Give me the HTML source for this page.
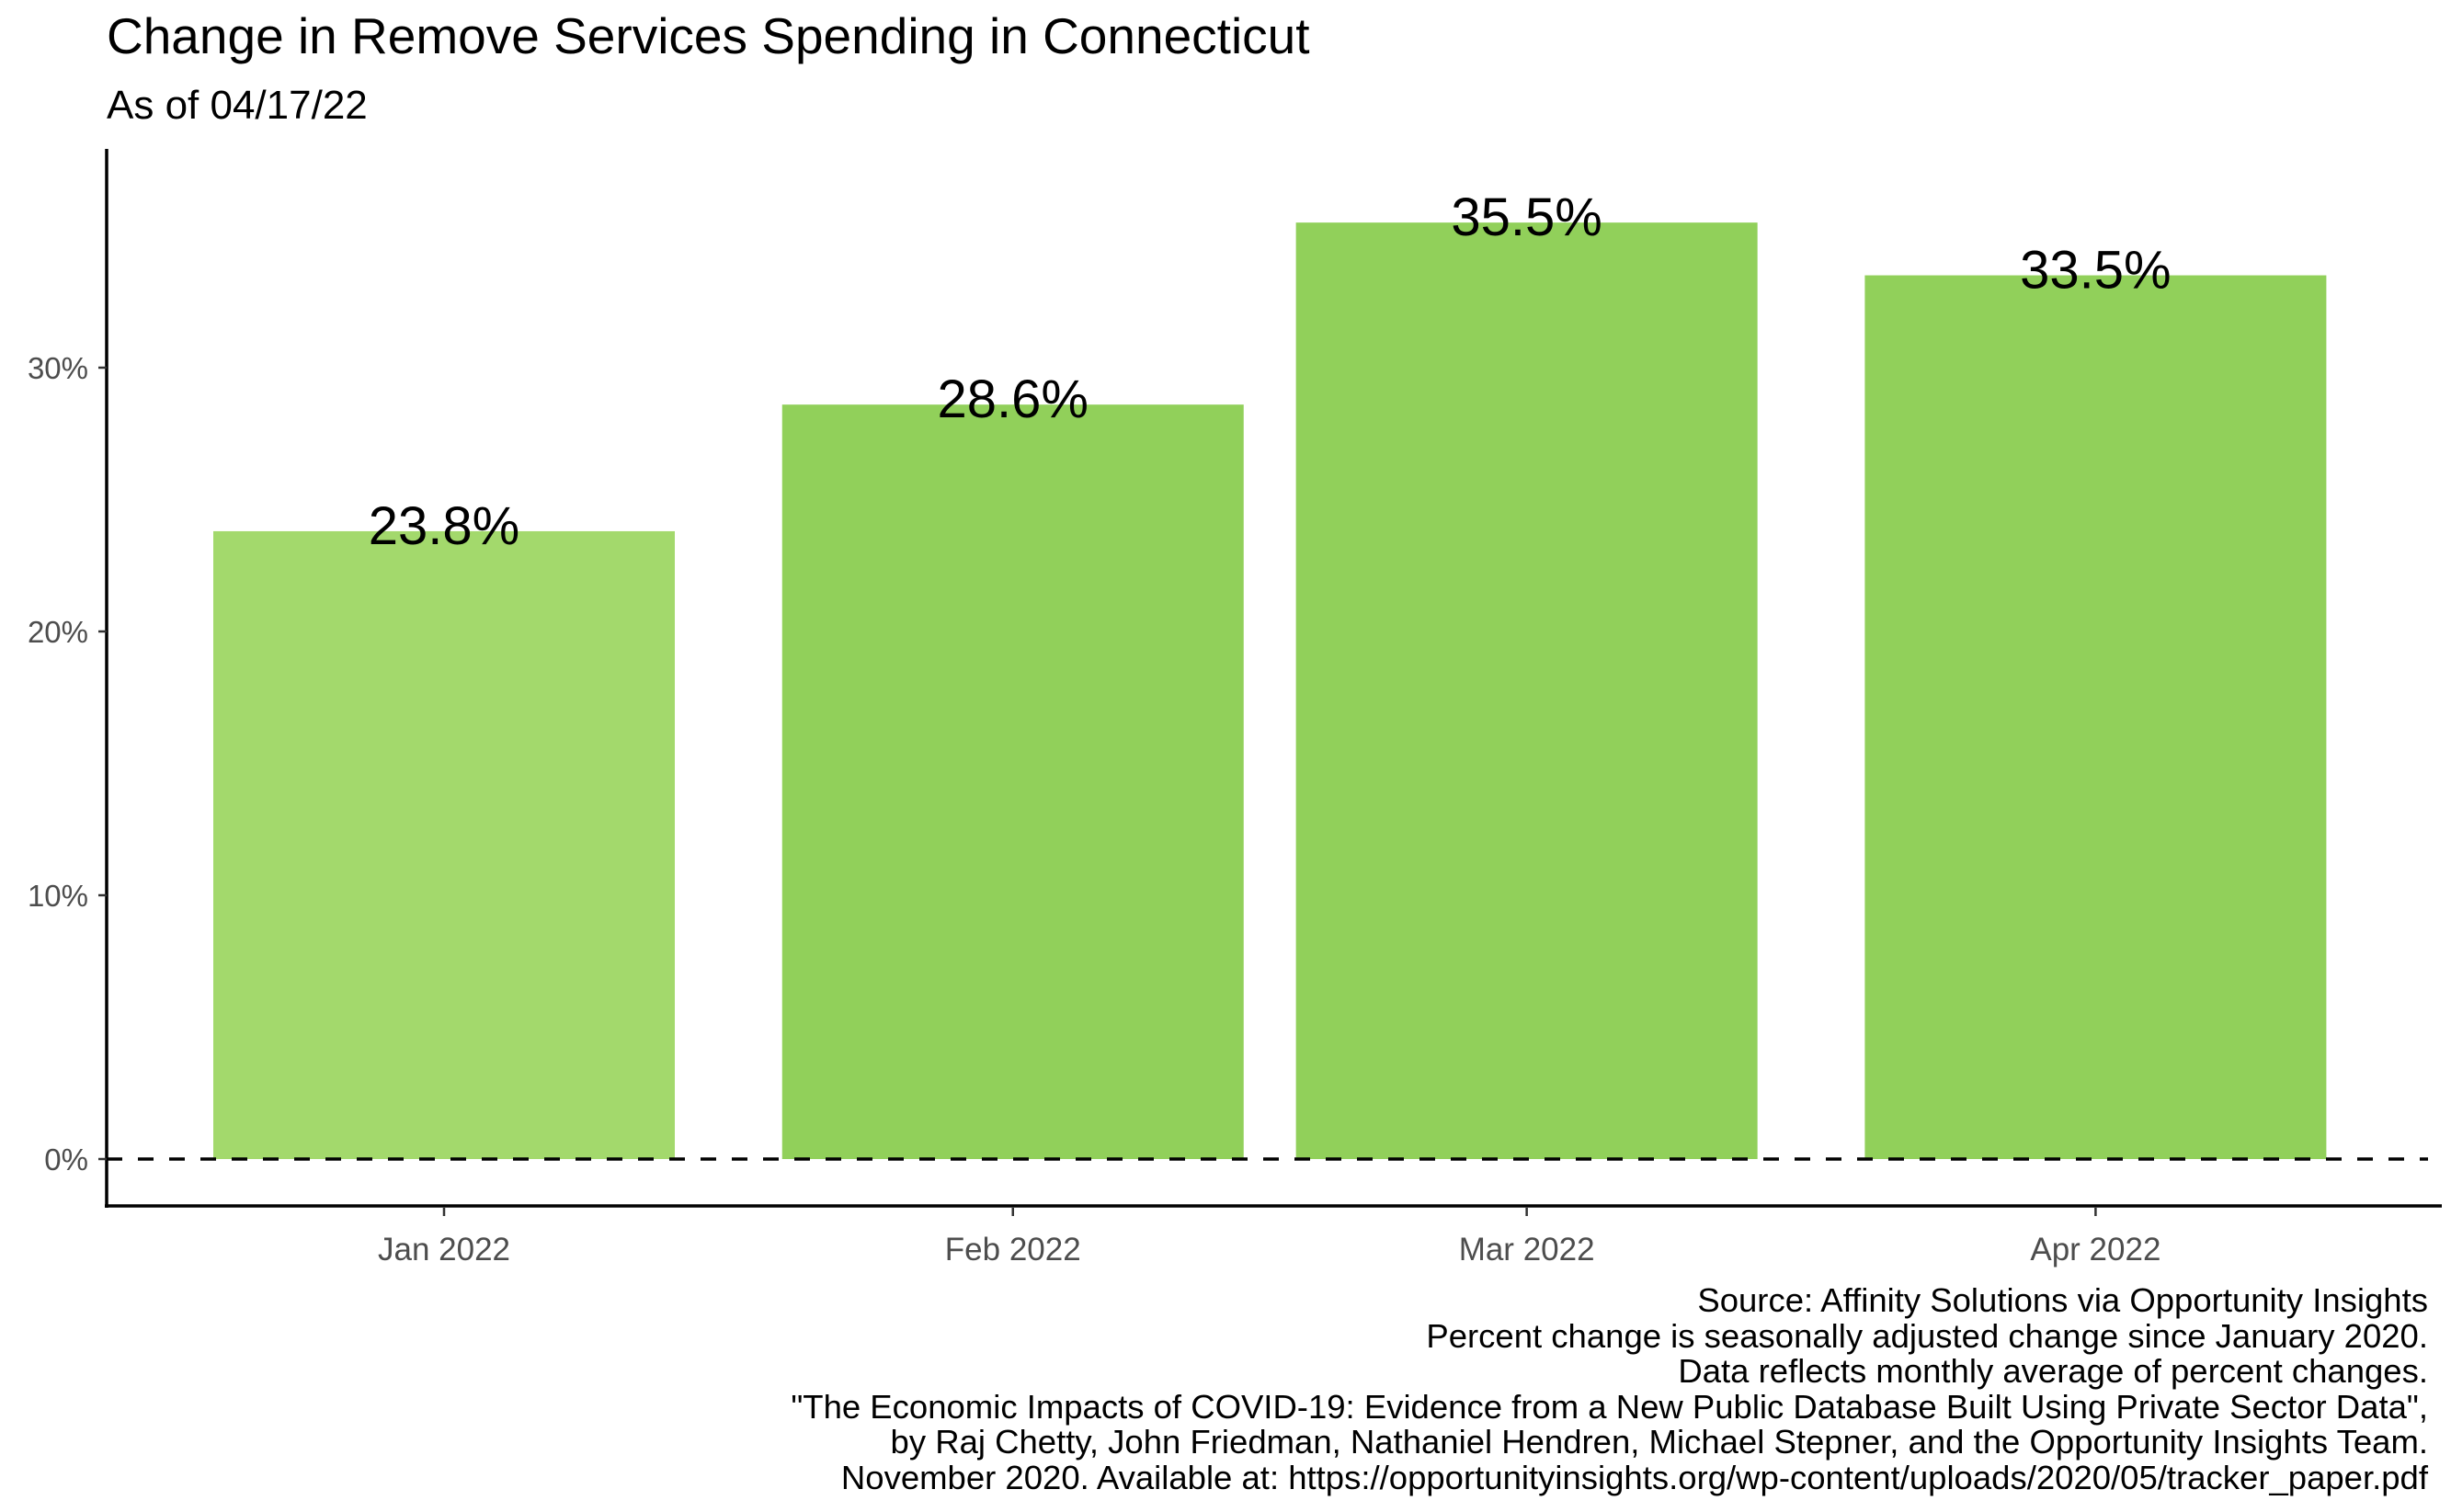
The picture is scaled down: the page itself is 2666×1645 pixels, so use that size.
<!DOCTYPE html>
<html><head><meta charset="utf-8"><style>
html,body{margin:0;padding:0;background:#fff;}
svg{display:block;font-family:"Liberation Sans",Arial,sans-serif;}
</style></head><body>
<svg id="chart" width="2666" height="1645" viewBox="0 0 2666 1645">
<text x="116" y="58" font-size="55" fill="#000">Change in Remove Services Spending in Connecticut</text>
<text x="116" y="129" font-size="44" fill="#000">As of 04/17/22</text>
<g id="bars"></g>
<g id="yaxis"></g>
<g id="xaxis"></g>
<g font-size="36.5" fill="#000" text-anchor="end">
<text x="2641" y="1427">Source: Affinity Solutions via Opportunity Insights</text>
<text x="2641" y="1466">Percent change is seasonally adjusted change since January 2020.</text>
<text x="2641" y="1504">Data reflects monthly average of percent changes.</text>
<text x="2641" y="1543">"The Economic Impacts of COVID-19: Evidence from a New Public Database Built Using Private Sector Data",</text>
<text x="2641" y="1581">by Raj Chetty, John Friedman, Nathaniel Hendren, Michael Stepner, and the Opportunity Insights Team.</text>
<text x="2641" y="1620">November 2020. Available at: https://opportunityinsights.org/wp-content/uploads/2020/05/tracker_paper.pdf</text>
</g>
</svg>
<script>
const categories = ["Jan 2022","Feb 2022","Mar 2022","Apr 2022"];
const dayOffsets = [0, 31, 59, 90];
const values = [23.8, 28.6, 35.5, 33.5];
const barColors = ["#a3d96c","#91d05a","#91d05a","#91d05a"];
const yTicks = [0, 10, 20, 30];
const yTickLabels = ["0%","10%","20%","30%"];

const NS="http://www.w3.org/2000/svg";
const svg=document.getElementById('chart');
function y(v){return 1261 - v*28.7;}
function x(d){return 483 + d*19.96;}
const halfW=251;
function mk(tag,attrs,parent){const e=document.createElementNS(NS,tag);for(const k in attrs)e.setAttribute(k,attrs[k]);parent.appendChild(e);return e;}
const gb=document.getElementById('bars');
values.forEach((v,i)=>{
  const cx=x(dayOffsets[i]);
  const r=mk('rect',{x:cx-halfW,y:y(v),width:halfW*2,height:y(0)-y(v),fill:barColors[i]},gb);
  
  
  const t=mk('text',{x:cx,y:y(v)+14,'font-size':58,'text-anchor':'middle',fill:'#000'},gb);
  t.textContent=v.toFixed(1)+'%';
  
  
});
const zl=mk('line',{x1:116,x2:2641,y1:y(0),y2:y(0),stroke:'#000','stroke-width':3.5,'stroke-dasharray':'17,17'},gb);


const gy=document.getElementById('yaxis');
const yl=mk('line',{x1:116,x2:116,y1:162,y2:1314,stroke:'#000','stroke-width':3.5},gy);


yTicks.forEach((v,i)=>{
  const tk=mk('line',{x1:107,x2:116,y1:y(v),y2:y(v),stroke:'#333','stroke-width':2.5},gy);
  
  
  const t=mk('text',{x:96,y:y(v)+12,'font-size':33,'text-anchor':'end',fill:'#4d4d4d'},gy);
  t.textContent=yTickLabels[i];
  
  
});
const gx=document.getElementById('xaxis');
const xl=mk('line',{x1:114,x2:2656,y1:1312,y2:1312,stroke:'#000','stroke-width':3.5},gx);


categories.forEach((c,i)=>{
  const cx=x(dayOffsets[i]);
  const tk=mk('line',{x1:cx,x2:cx,y1:1314,y2:1323,stroke:'#333','stroke-width':2.5},gx);
  
  
  const t=mk('text',{x:cx,y:1371,'font-size':35,'text-anchor':'middle',fill:'#4d4d4d'},gx);
  t.textContent=c;
  
  
});
</script>
</body></html>
